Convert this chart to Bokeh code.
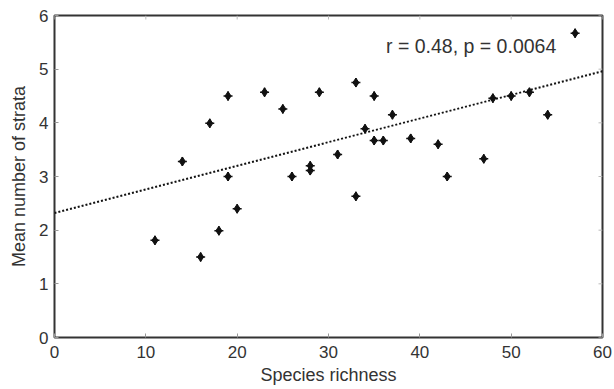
import math
from bokeh.plotting import figure
from bokeh.models import Range1d, Label, FixedTicker
from bokeh.embed import file_html
from bokeh.resources import INLINE

# Data
species_richness = [11, 14, 16, 17, 18, 19, 19, 20, 23, 25, 26, 28, 28, 29, 31,
                    33, 33, 34, 35, 35, 36, 37, 39, 42, 43, 47, 48, 50, 52, 54, 57]
mean_strata = [1.81, 3.28, 1.50, 3.99, 1.99, 4.50, 3.00, 2.40, 4.57, 4.26, 3.00, 3.20, 3.11, 4.57, 3.41,
               4.75, 2.63, 3.89, 4.50, 3.67, 3.67, 4.15, 3.71, 3.60, 3.00, 3.33, 4.46, 4.50, 4.57, 4.15, 5.67]
fit_x = [0, 60]
fit_y = [2.32, 4.96]
x_ticks = [0, 10, 20, 30, 40, 50, 60]
y_ticks = [0, 1, 2, 3, 4, 5, 6]
annotation = "r = 0.48, p = 0.0064"

FONT = "Liberation Sans"
TXT = "#333333"
X_MAX, Y_MAX = 60, 6

p = figure(width=614, height=389, output_backend="svg", toolbar_location=None,
           x_range=Range1d(0, X_MAX), y_range=Range1d(0, Y_MAX),
           min_border_left=54, min_border_right=12, min_border_top=15, min_border_bottom=52)
p.grid.visible = False
p.outline_line_color = "#333333"
p.outline_line_width = 2
p.background_fill_color = "white"
p.border_fill_color = "white"

for ax, ticks in ((p.xaxis[0], x_ticks), (p.yaxis[0], y_ticks)):
    ax.ticker = FixedTicker(ticks=ticks)
    ax.axis_line_color = None
    ax.major_tick_in = 4
    ax.major_tick_out = 0
    ax.major_tick_line_color = "#999999"
    ax.minor_tick_line_color = None
    ax.major_label_text_font = FONT
    ax.major_label_text_font_size = "17px"
    ax.major_label_text_color = TXT
    ax.axis_label_text_font = FONT
    ax.axis_label_text_font_size = "18px"
    ax.axis_label_text_font_style = "normal"
    ax.axis_label_text_color = TXT

p.xaxis[0].axis_label = "Species richness"
p.xaxis[0].major_label_standoff = 8
p.xaxis[0].axis_label_standoff = 4
p.yaxis[0].axis_label = "Mean number of strata"
p.yaxis[0].major_label_standoff = 6
p.yaxis[0].axis_label_standoff = 7

# mirrored inward ticks on the top and right edges of the box
p.ray(x=x_ticks, y=[Y_MAX] * len(x_ticks), length=4, length_units="screen",
      angle=-math.pi / 2, line_color="#bbbbbb", line_width=1)
p.ray(x=[X_MAX] * len(y_ticks), y=y_ticks, length=4, length_units="screen",
      angle=math.pi, line_color="#bbbbbb", line_width=1)

p.line(fit_x, fit_y, line_color="#111111", line_width=2, line_dash="2 2")
p.scatter(species_richness, mean_strata, marker="diamond", size=9,
          fill_color="#111111", line_color="#111111")
p.scatter(species_richness, mean_strata, marker="cross", size=9,
          line_color="#111111", line_width=1.5)

p.add_layout(Label(x=36.3, y=5.44, text=annotation, text_font=FONT,
                   text_font_size="19.5px", text_color=TXT, text_baseline="middle",
                   text_align="left"))

open("out.html", "w").write(file_html(p, INLINE))
